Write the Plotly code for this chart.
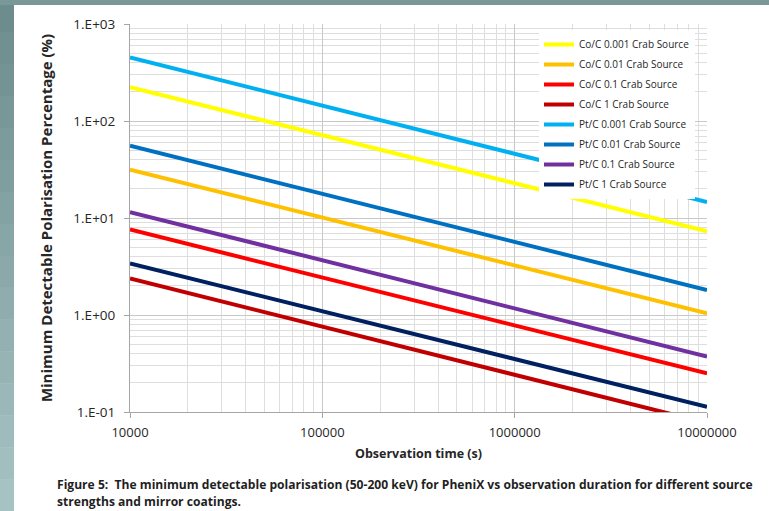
import plotly.graph_objects as go

# Data (observation time in s, MDP in %)
obs_time = [1e4, 1e7]
series_names = [
    "Co/C 0.001 Crab Source",
    "Co/C 0.01 Crab Source",
    "Co/C 0.1 Crab Source",
    "Co/C 1 Crab Source",
    "Pt/C 0.001 Crab Source",
    "Pt/C 0.01 Crab Source",
    "Pt/C 0.1 Crab Source",
    "Pt/C 1 Crab Source",
]
co_c_0001 = [223, 7.3]
co_c_001 = [31.5, 1.04]
co_c_01 = [7.6, 0.25]
co_c_1 = [2.38, 0.077]
pt_c_0001 = [453, 14.6]
pt_c_001 = [55.5, 1.81]
pt_c_01 = [11.5, 0.373]
pt_c_1 = [3.4, 0.113]
series_values = [co_c_0001, co_c_001, co_c_01, co_c_1,
                 pt_c_0001, pt_c_001, pt_c_01, pt_c_1]
series_colors = ["#FFFF00", "#FFC000", "#FF0000", "#C00000",
                 "#00B0F0", "#0070C0", "#7030A0", "#002060"]

x_tickvals = [1e4, 1e5, 1e6, 1e7]
x_ticktext = ["10000", "100000", "1000000", "10000000"]
y_tickvals = [0.1, 1, 10, 100, 1000]
y_ticktext = ["1.E-01", "1.E+00", "1.E+01", "1.E+02", "1.E+03"]

FONT = "Open Sans, Lato, sans-serif"

fig = go.Figure()
for i, (name, vals, col) in enumerate(zip(series_names, series_values, series_colors)):
    fig.add_trace(go.Scatter(x=obs_time, y=vals, mode="lines", name=name,
                             legendgroup="g%d" % i,
                             line=dict(color=col, width=4)))

W, H = 769, 511
L, R, T, B = 130, 62, 24, 99
pw, ph = W - L - R, H - T - B


def px(x):
    return (x - L) / pw


def py(y):
    return (H - B - y) / ph


shapes = []
# slide background bands (decoration)
top_c = (0x6C, 0x8C, 0x8D)
bot_c = (0xA6, 0xC3, 0xC4)
n = 16
for i in range(n):
    t = i / (n - 1)
    c = tuple(int(round(a + (b - a) * t)) for a, b in zip(top_c, bot_c))
    y0 = i * H / n
    y1 = (i + 1) * H / n + 0.5
    shapes.append(dict(type="rect", xref="paper", yref="paper",
                       x0=px(0), x1=px(14), y0=py(y1), y1=py(y0),
                       fillcolor="rgb(%d,%d,%d)" % c, line=dict(width=0),
                       layer="below"))
shapes.append(dict(type="rect", xref="paper", yref="paper",
                   x0=px(0), x1=px(W), y0=py(5), y1=py(0),
                   fillcolor="#7A9898", line=dict(width=0), layer="below"))
fig.update_layout(shapes=shapes)

fig.update_layout(
    width=W, height=H,
    margin=dict(l=L, r=R, t=T, b=B),
    paper_bgcolor="white", plot_bgcolor="white",
    font=dict(family=FONT, size=12, color="#262626"),
    showlegend=True,
    legend=dict(x=px(539), y=py(30), xanchor="left", yanchor="top",
                bgcolor="white", borderwidth=0, tracegroupgap=1,
                font=dict(family=FONT, size=10, color="#262626"),
                itemwidth=30),
    xaxis=dict(type="log", range=[4, 7],
               tickvals=x_tickvals, ticktext=x_ticktext,
               tickfont=dict(size=13, family=FONT),
               ticklabelstandoff=3,
               showgrid=True, gridcolor="#C8C8C8", gridwidth=1,
               showline=True, linecolor="#A6A6A6", linewidth=1,
               ticks="outside", ticklen=5, tickcolor="#A6A6A6",
               minor=dict(dtick="D1", showgrid=True, gridcolor="#DEDEDE",
                          ticks=""),
               zeroline=False,
               title=dict(text="<b>Observation time (s)</b>",
                          font=dict(size=12.5, family=FONT), standoff=9)),
    yaxis=dict(type="log", range=[-1, 3],
               tickvals=y_tickvals, ticktext=y_ticktext,
               tickfont=dict(size=13.5, family=FONT),
               ticklabelstandoff=6,
               showgrid=True, gridcolor="#C8C8C8", gridwidth=1,
               showline=True, linecolor="#A6A6A6", linewidth=1,
               ticks="outside", ticklen=5, tickcolor="#A6A6A6",
               minor=dict(dtick="D1", showgrid=True, gridcolor="#DEDEDE",
                          ticks=""),
               zeroline=False,
               title=dict(text="<b>Minimum Detectable Polarisation Percentage (%)</b>",
                          font=dict(size=15, family=FONT), standoff=17)),
)

caption1 = ("<b>Figure 5:  The minimum detectable polarisation (50-200 keV) for PheniX "
            "vs observation duration for different source</b>")
caption2 = "<b>strengths and mirror coatings.</b>"
fig.add_annotation(text=caption1, xref="paper", yref="paper",
                   x=px(55), y=py(484), xanchor="left", yanchor="middle",
                   showarrow=False,
                   font=dict(family=FONT, size=12.1, color="#1F1F1F"))
fig.add_annotation(text=caption2, xref="paper", yref="paper",
                   x=px(55), y=py(501), xanchor="left", yanchor="middle",
                   showarrow=False,
                   font=dict(family=FONT, size=12.1, color="#1F1F1F"))

fig.write_html("out.html")
